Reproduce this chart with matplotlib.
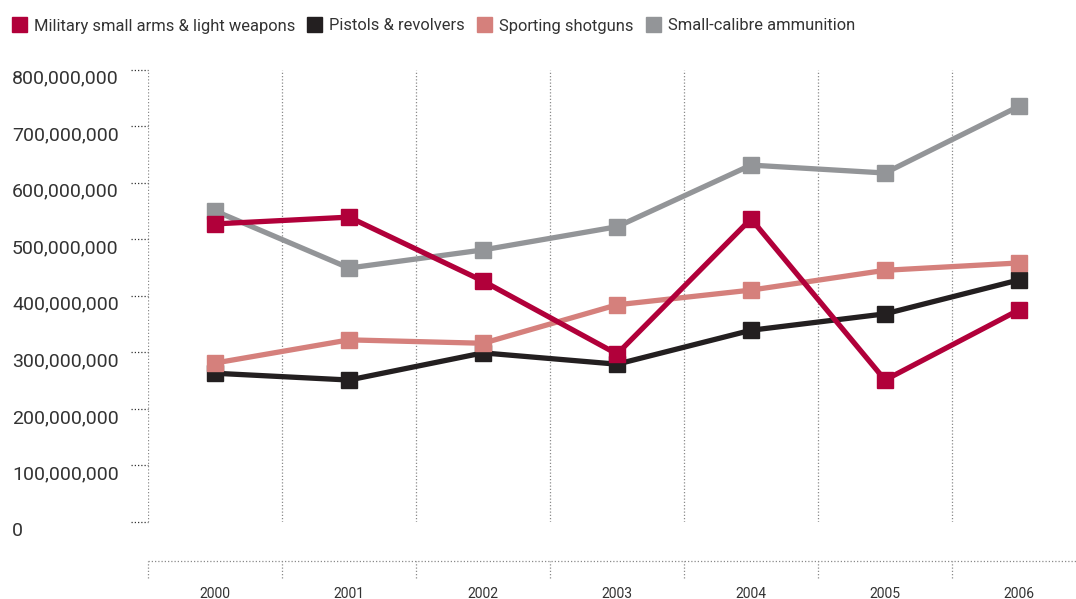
import matplotlib
matplotlib.use("Agg")
import matplotlib.pyplot as plt
import matplotlib.transforms as mtransforms
from matplotlib.patches import Rectangle

plt.rcParams['font.family'] = ['Roboto', 'DejaVu Sans']

years = ['2000', '2001', '2002', '2003', '2004', '2005', '2006']
military = [527e6, 539e6, 426e6, 297e6, 536e6, 251e6, 375e6]
pistols = [263e6, 251e6, 299e6, 279e6, 339e6, 368e6, 428e6]
shotguns = [281e6, 322e6, 316e6, 384e6, 410e6, 445e6, 458e6]
ammo = [550e6, 449e6, 481e6, 522e6, 631e6, 617e6, 735e6]

series_names = ['Military small arms & light weapons', 'Pistols & revolvers',
                'Sporting shotguns', 'Small-calibre ammunition']
colores = ['#B1003A', '#231F20', '#D5807C', '#939598']
y_ticks = [0, 100e6, 200e6, 300e6, 400e6, 500e6, 600e6, 700e6, 800e6]

W, H = 1076, 599
fig = plt.figure(figsize=(W / 100, H / 100), dpi=100)
ax = fig.add_axes([148 / W, (H - 522) / H, (W - 148) / W, 452.5 / H])

texto = '#333333'
grid_c = '#8a8a8a'
dot = (0, (1, 1.6))

x = list(range(len(years)))
datos = [military, pistols, shotguns, ammo]
for i in [1, 2, 3, 0]:
    ax.plot(x, datos[i], color=colores[i], lw=3.8, marker='s', ms=11.5,
            solid_joinstyle='miter', zorder=3)

ax.set_xlim(-0.5, 6.425)
ax.set_ylim(0, 800e6)
for s in ax.spines.values():
    s.set_visible(False)
ax.set_xticks([])
ax.set_yticks([])

# lineas verticales punteadas entre categorias
for k in range(len(years)):
    ax.axvline(k - 0.5, color=grid_c, lw=0.9, ls=dot, zorder=1)

# marcas y etiquetas del eje y
tr_ticks = mtransforms.blended_transform_factory(ax.transAxes, ax.transData)
tr_lab = mtransforms.blended_transform_factory(fig.transFigure, ax.transData) + \
    mtransforms.ScaledTranslation(0, -9 / 100, fig.dpi_scale_trans)
for v in y_ticks:
    ax.plot([-17 / (W - 148), 0], [v, v], transform=tr_ticks, color='#333333',
            lw=0.9, ls=dot, clip_on=False)
    ax.text(12 / W, v, f'{int(v):,}', transform=tr_lab, ha='left', va='center',
            fontsize=14, color=texto)

# eje de categorias abajo
axb = fig.add_axes([148 / W, (H - 578) / H, (W - 148) / W, 17 / H])
axb.set_xlim(-0.5, 6.425)
axb.set_ylim(0, 1)
axb.axis('off')
axb.plot([-0.5, 6.425], [1, 1], color=grid_c, lw=0.9, ls=dot, clip_on=False)
for k in range(len(years)):
    axb.plot([k - 0.5, k - 0.5], [0, 1], color=grid_c, lw=0.9, ls=dot, clip_on=False)
    axb.text(k, -0.95, years[k], ha='center', va='center', fontsize=10, color=texto)

# leyenda
fig.canvas.draw()
renderer = fig.canvas.get_renderer()
xpos = 12
ycen = H - 24.5
for nombre, c in zip(series_names, colores):
    fig.patches.append(Rectangle((xpos / W, (ycen - 7.5) / H), 15 / W, 15 / H,
                                 transform=fig.transFigure, color=c))
    t = fig.text((xpos + 22) / W, ycen / H, nombre, ha='left', va='center_baseline',
                 fontsize=11.9, color=texto)
    bb = t.get_window_extent(renderer)
    xpos = bb.x1 + 12

fig.savefig('out.png', dpi=100)
